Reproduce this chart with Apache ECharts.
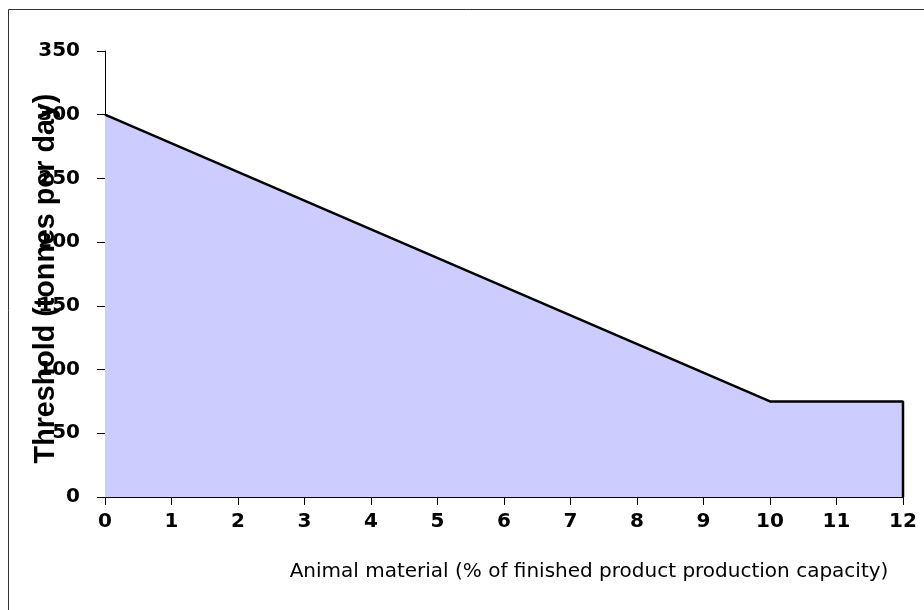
<!DOCTYPE html>
<html>
<head>
<meta charset="utf-8">
<script src="https://cdn.jsdelivr.net/npm/echarts@6/dist/echarts.min.js"></script>
<style>
html,body{margin:0;padding:0;background:#fff;}
#chart{width:924px;height:610px;}
</style>
</head>
<body>
<div id="chart"></div>
<script>
// Data
var xValues = [0, 10, 12, 12];
var thresholdValues = [300, 75, 75, 0];
var xTicks = [0, 1, 2, 3, 4, 5, 6, 7, 8, 9, 10, 11, 12];
var yTicks = [0, 50, 100, 150, 200, 250, 300, 350];
var xTitle = 'Animal material (% of finished product production capacity)';
var yTitle = 'Threshold (tonnes per day)';

var seriesData = xValues.map(function (x, i) { return [x, thresholdValues[i]]; });

var chart = echarts.init(document.getElementById('chart'), null, {renderer: 'canvas'});
chart.setOption({
  animation: false,
  backgroundColor: '#ffffff',
  grid: {left: 105, right: 21, top: 51, bottom: 113, containLabel: false, outerBoundsMode: 'none'},
  graphic: [{
    type: 'rect', z: 100, silent: true,
    shape: {x: 8.5, y: 9.5, width: 1000, height: 1000},
    style: {fill: 'none', stroke: '#333333', lineWidth: 1}
  }],
  xAxis: {
    type: 'value',
    min: xTicks[0], max: xTicks[xTicks.length - 1], interval: 1,
    name: xTitle,
    nameLocation: 'middle',
    nameGap: 65,
    nameMoveOverlap: false,
    nameTextStyle: {fontFamily: 'DejaVu Sans', fontSize: 20, color: '#000', padding: [0, 0, 0, 170]},
    axisLine: {lineStyle: {color: '#000', width: 1}},
    axisTick: {show: true, length: 8, lineStyle: {color: '#000'}},
    axisLabel: {fontFamily: 'DejaVu Sans', fontWeight: 'bold', fontSize: 20, color: '#000', margin: 15},
    splitLine: {show: false}
  },
  yAxis: {
    type: 'value',
    min: yTicks[0], max: yTicks[yTicks.length - 1], interval: 50,
    name: yTitle,
    nameLocation: 'middle',
    nameRotate: 90,
    nameGap: 44,
    nameMoveOverlap: false,
    nameTextStyle: {fontFamily: 'Liberation Sans', fontWeight: 'bold', fontSize: 28.7, color: '#000', padding: [0, 9, 0, 0]},
    axisLine: {show: true, lineStyle: {color: '#000', width: 1}},
    axisTick: {show: true, length: 8, lineStyle: {color: '#000'}},
    axisLabel: {fontFamily: 'DejaVu Sans', fontWeight: 'bold', fontSize: 20, color: '#000', margin: 25},
    splitLine: {show: false}
  },
  series: [{
    type: 'line',
    data: seriesData,
    symbol: 'none',
    lineStyle: {color: '#000', width: 2.5},
    areaStyle: {color: '#ccccff', opacity: 1}
  }]
});
</script>
</body>
</html>
